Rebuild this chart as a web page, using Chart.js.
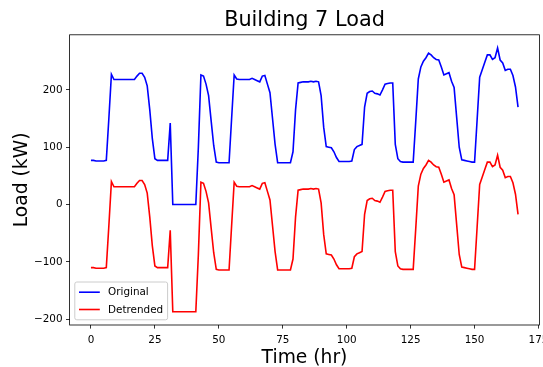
<!DOCTYPE html>
<html>
<head>
<meta charset="utf-8">
<script src="https://cdn.jsdelivr.net/npm/chart.js@4.4.1/dist/chart.umd.min.js"></script>
<style>
  html, body { margin: 0; padding: 0; background: #fff; }
</style>
</head>
<body>
<canvas id="load" width="543" height="367"></canvas>
<script>
var blue = '#0000ff',
    red  = '#ff0000',
    font = '"DejaVu Sans", sans-serif';

// hourly samples, one week
var hours = [];
for (var h = 0; h < 168; h++) hours.push(h);

var original = [
  77, 77, 76, 76, 76, 76, 77, 150, 227, 218,
  218, 218, 218, 218, 218, 218, 218, 218, 224, 229,
  229, 222, 207, 165, 115, 80, 77, 77, 77, 77,
  77, 142, 0, 0, 0, 0, 0, 0, 0, 0,
  0, 0, 100, 226, 224, 210, 190, 146, 103, 74,
  73, 73, 73, 73, 73, 150, 226, 219, 218, 218,
  218, 218, 218, 220, 218, 216, 214, 224, 225, 210,
  195, 150, 105, 73, 73, 73, 73, 73, 73, 92,
  165, 212, 213, 214, 214, 214, 215, 214, 215, 214,
  190, 135, 101, 100, 99, 92, 82, 75, 75, 75,
  75, 75, 76, 96, 101, 103, 105, 170, 194, 197,
  198, 194, 193, 191, 200, 210, 211, 212, 212, 105,
  80, 75, 74, 74, 74, 74, 74, 145, 219, 240,
  250, 256, 264, 261, 256, 253, 252, 240, 226, 228,
  230, 215, 204, 152, 100, 78, 77, 76, 75, 74,
  74, 148, 222, 235, 248, 261, 261, 253, 256, 273,
  252, 247, 234, 236, 236, 225, 205, 170
];

var detrended = [
  -110, -110, -111, -111, -111, -111, -110, -37, 40, 31,
  31, 31, 31, 31, 31, 31, 31, 31, 37, 42,
  42, 35, 20, -22, -72, -107, -110, -110, -110, -110,
  -110, -45, -187, -187, -187, -187, -187, -187, -187, -187,
  -187, -187, -87, 39, 37, 23, 3, -41, -84, -113,
  -114, -114, -114, -114, -114, -37, 39, 32, 31, 31,
  31, 31, 31, 33, 31, 29, 27, 37, 38, 23,
  8, -37, -82, -114, -114, -114, -114, -114, -114, -95,
  -22, 25, 26, 27, 27, 27, 28, 27, 28, 27,
  3, -52, -86, -87, -88, -95, -105, -112, -112, -112,
  -112, -112, -111, -91, -86, -84, -82, -17, 7, 10,
  11, 7, 6, 4, 13, 23, 24, 25, 25, -82,
  -107, -112, -113, -113, -113, -113, -113, -42, 32, 53,
  63, 69, 77, 74, 69, 66, 65, 53, 39, 41,
  43, 28, 17, -35, -87, -109, -110, -111, -112, -113,
  -113, -39, 35, 48, 61, 74, 74, 66, 69, 86,
  65, 60, 47, 49, 49, 38, 18, -17
];

var seriesNames = ['Original', 'Detrended'];
var xTicks = [0, 25, 50, 75, 100, 125, 150, 175];
var yTicks = [-200, -100, 0, 100, 200];

function pts(vals) {
  return vals.map(function (v, i) { return { x: hours[i], y: v }; });
}

// frame, title, axis labels and legend drawn matplotlib-style
var extras = {
  id: 'extras',
  afterDraw: function (chart) {
    var c = chart.ctx, a = chart.chartArea;
    var cx = (a.left + a.right) / 2;
    c.save();
    c.strokeStyle = '#000';
    c.lineWidth = 0.8;
    c.strokeRect(a.left, a.top, a.right - a.left, a.bottom - a.top);

    c.fillStyle = '#000';
    c.textAlign = 'center';
    c.textBaseline = 'alphabetic';
    c.font = '20.8px ' + font;
    c.fillText('Building 7 Load', cx, 26);
    c.font = '18.7px ' + font;
    c.fillText('Time (hr)', cx, 363);
    c.save();
    c.translate(27, (a.top + a.bottom) / 2);
    c.rotate(-Math.PI / 2);
    c.fillText('Load (kW)', 0, 0);
    c.restore();

    // legend, lower left
    var lx = a.left + 5.2, bw = 92.8, bh = 37.8;
    var ly = a.bottom - 5.2 - bh;
    c.beginPath();
    c.roundRect(lx, ly, bw, bh, 2);
    c.fillStyle = 'rgba(255,255,255,0.8)';
    c.fill();
    c.strokeStyle = '#cccccc';
    c.lineWidth = 1;
    c.stroke();
    c.font = '10.4px ' + font;
    c.textAlign = 'left';
    c.textBaseline = 'middle';
    chart.data.datasets.forEach(function (ds, i) {
      var ry = ly + 4.2 + 6 + i * 17.3;
      c.strokeStyle = ds.borderColor;
      c.lineWidth = 1.6;
      c.beginPath();
      c.moveTo(lx + 4.2, ry);
      c.lineTo(lx + 25, ry);
      c.stroke();
      c.fillStyle = '#000';
      c.fillText(ds.label, lx + 33.3, ry + 0.5);
    });
    c.restore();
  }
};

function tickLabel(v) {
  return v < 0 ? '\u2212' + Math.abs(v) : String(v);
}

new Chart(document.getElementById('load'), {
  type: 'line',
  data: {
    datasets: [
      {
        label: seriesNames[0],
        data: pts(original),
        borderColor: blue,
        borderWidth: 1.6,
        pointRadius: 0,
        tension: 0,
        fill: false
      },
      {
        label: seriesNames[1],
        data: pts(detrended),
        borderColor: red,
        borderWidth: 1.6,
        pointRadius: 0,
        tension: 0,
        fill: false
      }
    ]
  },
  options: {
    responsive: false,
    animation: false,
    devicePixelRatio: 1,
    layout: { padding: { top: 34.8, right: 3.6, left: 0, bottom: 0 } },
    plugins: {
      legend: { display: false },
      title: { display: false },
      tooltip: { enabled: false }
    },
    scales: {
      x: {
        type: 'linear',
        min: -8.35,
        max: 175.35,
        afterBuildTicks: function (s) {
          s.ticks = xTicks.map(function (v) { return { value: v }; });
        },
        afterFit: function (s) {
          s.height = 42;
          s.paddingLeft = 0;
          s.paddingRight = 0;
        },
        border: { display: false },
        grid: {
          drawOnChartArea: false,
          drawTicks: true,
          tickLength: 3.6,
          tickColor: '#000',
          tickWidth: 0.8
        },
        ticks: {
          color: '#000',
          padding: 5,
          maxRotation: 0,
          autoSkip: false,
          font: { family: font, size: 10.4 },
          callback: tickLabel
        }
      },
      y: {
        min: -210,
        max: 296,
        afterBuildTicks: function (s) {
          s.ticks = yTicks.map(function (v) { return { value: v }; });
        },
        afterFit: function (s) {
          s.width = 69.6;
          s.paddingTop = 0;
          s.paddingBottom = 0;
        },
        border: { display: false },
        grid: {
          drawOnChartArea: false,
          drawTicks: true,
          tickLength: 3.6,
          tickColor: '#000',
          tickWidth: 0.8
        },
        ticks: {
          color: '#000',
          padding: 3.5,
          autoSkip: false,
          font: { family: font, size: 10.4 },
          callback: tickLabel
        }
      }
    }
  },
  plugins: [extras]
});
</script>
</body>
</html>
